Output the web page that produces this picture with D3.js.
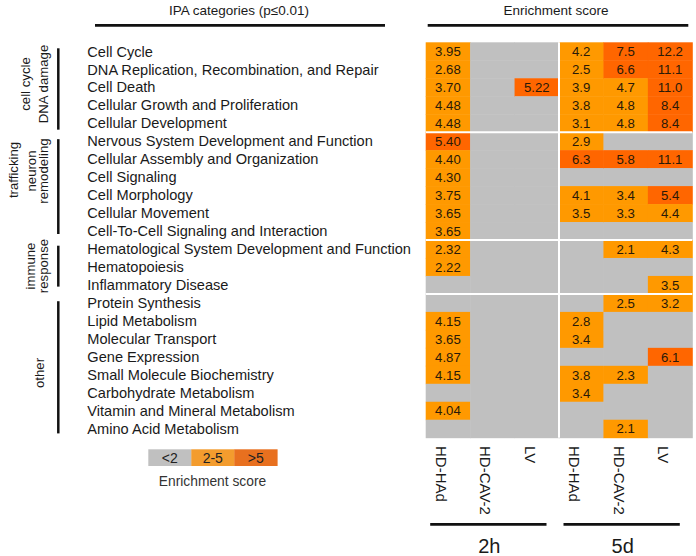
<!DOCTYPE html>
<html><head><meta charset="utf-8">
<script src="https://cdn.jsdelivr.net/npm/d3@7"></script>
<style>
html,body{margin:0;padding:0;background:#fff;}
svg{display:block;font-family:"Liberation Sans",Arial,sans-serif;}
</style></head>
<body><svg id="c" width="696" height="556"></svg>
<script>
const rows = [
 "Cell Cycle","DNA Replication, Recombination, and Repair","Cell Death","Cellular Growth and Proliferation","Cellular Development",
 "Nervous System Development and Function","Cellular Assembly and Organization","Cell Signaling","Cell Morphology","Cellular Movement","Cell-To-Cell Signaling and Interaction",
 "Hematological System Development and Function","Hematopoiesis","Inflammatory Disease",
 "Protein Synthesis","Lipid Metabolism","Molecular Transport","Gene Expression","Small Molecule Biochemistry","Carbohydrate Metabolism","Vitamin and Mineral Metabolism","Amino Acid Metabolism"
];
const groupSizes = [5, 6, 3, 8];
const groupLabels = [["cell cycle","DNA damage"],["neuron","remodeling"],["immune","response"],["other"]];
const columns = ["HD-HAd","HD-CAV-2","LV","HD-HAd","HD-CAV-2","LV"];
const times = ["2h","5d"];
const timeDecimals = [2, 1];
const legendLabels = ["<2","2-5",">5"];
const thresholds = [2, 5];

const hdhad2h = [3.95,2.68,3.70,4.48,4.48,5.40,4.40,4.30,3.75,3.65,3.65,2.32,2.22,null,null,4.15,3.65,4.87,4.15,null,4.04,null];
const hdcav2h = [null,null,null,null,null,null,null,null,null,null,null,null,null,null,null,null,null,null,null,null,null,null];
const lv2h    = [null,null,5.22,null,null,null,null,null,null,null,null,null,null,null,null,null,null,null,null,null,null,null];
const hdhad5d = [4.2,2.5,3.9,3.8,3.1,2.9,6.3,null,4.1,3.5,null,null,null,null,null,2.8,3.4,null,3.8,3.4,null,null];
const hdcav5d = [7.5,6.6,4.7,4.8,4.8,null,5.8,null,3.4,3.3,null,2.1,null,null,2.5,null,null,null,2.3,null,null,2.1];
const lv5d    = [12.2,11.1,11.0,8.4,8.4,null,11.1,null,5.4,4.4,null,4.3,null,3.5,3.2,null,null,6.1,null,null,null,null];
const series = [hdhad2h, hdcav2h, lv2h, hdhad5d, hdcav5d, lv5d];

const svg = d3.select("#c");
const FONT_TXT = "#1a1a1a";
const x = d3.scaleBand().domain(d3.range(columns.length)).range([425.7, 692.3]);
const y = d3.scaleBand().domain(rows).range([42.3, 437.7]);
const color = d3.scaleThreshold().domain(thresholds).range(["#c0c0c0","#ff9900","#ff6600"]);
const legendColor = d3.scaleOrdinal().domain(legendLabels).range(["#c0c0c0","#f39c2e","#e8701f"]);

// cells
const cells = [];
series.forEach((s, ci) => s.forEach((v, ri) => cells.push({ci, ri, v})));
svg.append("g").selectAll("rect").data(cells).join("rect")
  .attr("x", d => x(d.ci)).attr("y", d => y(rows[d.ri]))
  .attr("width", x.bandwidth() + 0.5).attr("height", y.bandwidth() + 0.5)
  .attr("fill", d => d.v == null ? "#c0c0c0" : color(d.v));
svg.append("g").selectAll("text").data(cells.filter(d => d.v != null)).join("text")
  .attr("x", d => x(d.ci) + x.bandwidth() / 2)
  .attr("y", d => y(rows[d.ri]) + y.bandwidth() / 2)
  .attr("dy", "0.36em").attr("text-anchor", "middle")
  .attr("font-size", 13.2).attr("fill", "#2a1a08")
  .text(d => d.v.toFixed(timeDecimals[Math.floor(d.ci / 3)]));

// separators
let cum = 0;
const bounds = [];
groupSizes.forEach((g, gi) => { bounds.push({start: cum, end: cum + g, gi}); cum += g; });
bounds.slice(1).forEach(b => {
  svg.append("line").attr("x1", x.range()[0]).attr("x2", x.range()[1])
    .attr("y1", y(rows[b.start])).attr("y2", y(rows[b.start]))
    .attr("stroke", "#fff").attr("stroke-width", 2);
});
svg.append("line").attr("x1", x(3)).attr("x2", x(3))
  .attr("y1", y.range()[0]).attr("y2", y.range()[1])
  .attr("stroke", "#fff").attr("stroke-width", 2);

// row labels
svg.append("g").selectAll("text").data(rows).join("text")
  .attr("x", 87.3).attr("y", d => y(d) + y.bandwidth() / 2).attr("dy", "0.36em")
  .attr("font-size", 14.6).attr("fill", FONT_TXT).text(d => d);

// group bars & labels
const barInfo = [
  {top: 6, bot: 2.5, cx: [26, 44], cy: 84},
  {top: 7, bot: 6, cx: [31.5, 43.5], cy: 171},
  {top: 5.7, bot: 7.3, cx: [31, 43.5], cy: 266},
  {top: 7.3, bot: 4.3, cx: [40], cy: 373}
];
bounds.forEach(b => {
  const info = barInfo[b.gi];
  const y0 = y(rows[b.start]), y1 = y(rows[b.end - 1]) + y.bandwidth();
  svg.append("line").attr("x1", 58.3).attr("x2", 58.3)
    .attr("y1", y0 + info.top).attr("y2", y1 - info.bot)
    .attr("stroke", "#111").attr("stroke-width", 2.5);
  groupLabels[b.gi].forEach((lab, li) => {
    svg.append("text").attr("transform", `translate(${info.cx[li]},${info.cy}) rotate(-90)`)
      .attr("text-anchor", "middle").attr("dy", "0.33em")
      .attr("font-size", 13.2).attr("fill", FONT_TXT).text(lab);
  });
});
svg.append("text").attr("transform", "translate(14,170) rotate(-90)")
  .attr("text-anchor", "middle").attr("dy", "0.33em")
  .attr("font-size", 13.2).attr("fill", FONT_TXT).text("trafficking");

// headers
svg.append("text").attr("x", 239).attr("y", 14.5).attr("text-anchor", "middle")
  .attr("font-size", 13.5).attr("fill", FONT_TXT).text("IPA categories (p\u22640.01)");
svg.append("line").attr("x1", 95).attr("x2", 385).attr("y1", 25.3).attr("y2", 25.3)
  .attr("stroke", "#111").attr("stroke-width", 2.7);
svg.append("text").attr("x", 556).attr("y", 14.5).attr("text-anchor", "middle")
  .attr("font-size", 13.5).attr("fill", FONT_TXT).text("Enrichment score");
svg.append("line").attr("x1", 427.7).attr("x2", 688.3).attr("y1", 25.3).attr("y2", 25.3)
  .attr("stroke", "#111").attr("stroke-width", 2.7);

// column labels
svg.append("g").selectAll("text").data(columns).join("text")
  .attr("transform", (d, i) => `translate(${x(i) + x.bandwidth() / 2 - 12},446) rotate(90)`)
  .attr("font-size", 15).attr("fill", FONT_TXT).text(d => d);

// time labels
times.forEach((t, ti) => {
  const x0 = x(ti * 3), x1 = x(ti * 3 + 2) + x.bandwidth();
  svg.append("line").attr("x1", x0 + 4.5).attr("x2", x1 - 12.5)
    .attr("y1", 524.3).attr("y2", 524.3).attr("stroke", "#111").attr("stroke-width", 2.8);
  svg.append("text").attr("x", (x0 + x1) / 2 - 3).attr("y", 552.7).attr("text-anchor", "middle")
    .attr("font-size", 20).attr("fill", FONT_TXT).text(t);
});

// legend
const lx = d3.scaleBand().domain(legendLabels).range([148.3, 277.3]);
svg.append("g").selectAll("rect").data(legendLabels).join("rect")
  .attr("x", d => lx(d)).attr("y", 449.3).attr("width", lx.bandwidth() + 0.3).attr("height", 16.7)
  .attr("fill", d => legendColor(d));
svg.append("g").selectAll("text").data(legendLabels).join("text")
  .attr("x", d => lx(d) + lx.bandwidth() / 2).attr("y", 457.7).attr("dy", "0.36em")
  .attr("text-anchor", "middle").attr("font-size", 14).attr("fill", "#222").text(d => d);
svg.append("text").attr("x", 212.5).attr("y", 485.5).attr("text-anchor", "middle")
  .attr("font-size", 13.8).attr("fill", "#333").text("Enrichment score");
</script></body></html>
